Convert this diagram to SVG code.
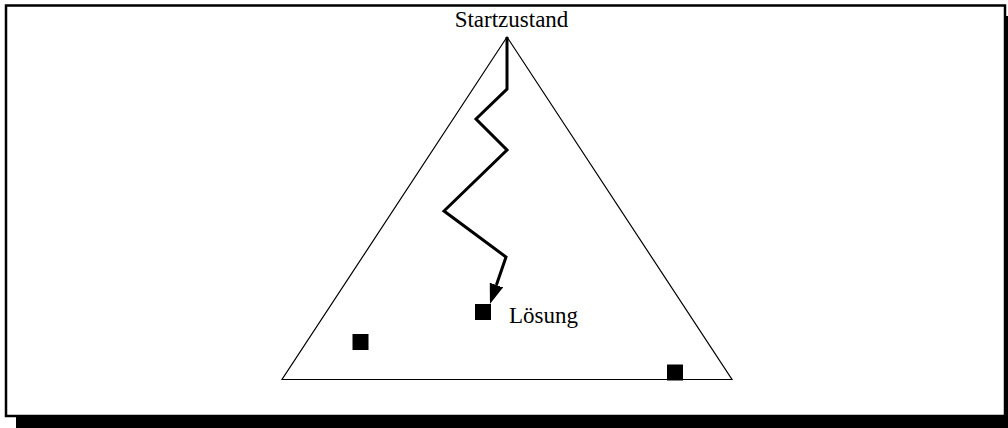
<svg xmlns="http://www.w3.org/2000/svg" width="1008" height="428" viewBox="0 0 1008 428">
  <style>
    .lbl { font-family: "Liberation Serif", "Times New Roman", serif; font-size: 23px; fill: #000; }
    .sol { fill: #000; }
  </style>
  <defs>
    <marker id="arrow" markerUnits="userSpaceOnUse" markerWidth="22" markerHeight="16" refX="0" refY="7" orient="auto">
      <path d="M0,0 L20,7 L0,14 Z" fill="#000"/>
    </marker>
  </defs>
  <rect x="0" y="0" width="1008" height="428" fill="#fff"/>
  <g id="frame">
    <rect x="16" y="16" width="1000" height="420" fill="#000"/>
    <rect x="6" y="5.5" width="999" height="410.5" fill="#fff" stroke="#000" stroke-width="2.5"/>
  </g>
  <g id="state-space">
    <polygon points="507,37 282,379.5 732,379.5" fill="none" stroke="#000" stroke-width="1.2"/>
  </g>
  <g id="start">
    <text class="lbl" x="511.5" y="27" text-anchor="middle">Startzustand</text>
  </g>
  <g id="solution">
    <rect class="sol" x="475" y="304" width="16" height="16"/>
    <text class="lbl" x="509" y="323">Lösung</text>
  </g>
  <g id="goal2">
    <rect class="sol" x="352.5" y="334" width="16" height="16"/>
  </g>
  <g id="goal3">
    <rect class="sol" x="667" y="364.5" width="16" height="16"/>
  </g>
  <g id="connectors">
    <polyline points="507,37 507,89 476,119 507,150 444,211 506,257 496.4,285.1" fill="none" stroke="#000" stroke-width="3" stroke-linejoin="miter" marker-end="url(#arrow)"/>
  </g>
</svg>
